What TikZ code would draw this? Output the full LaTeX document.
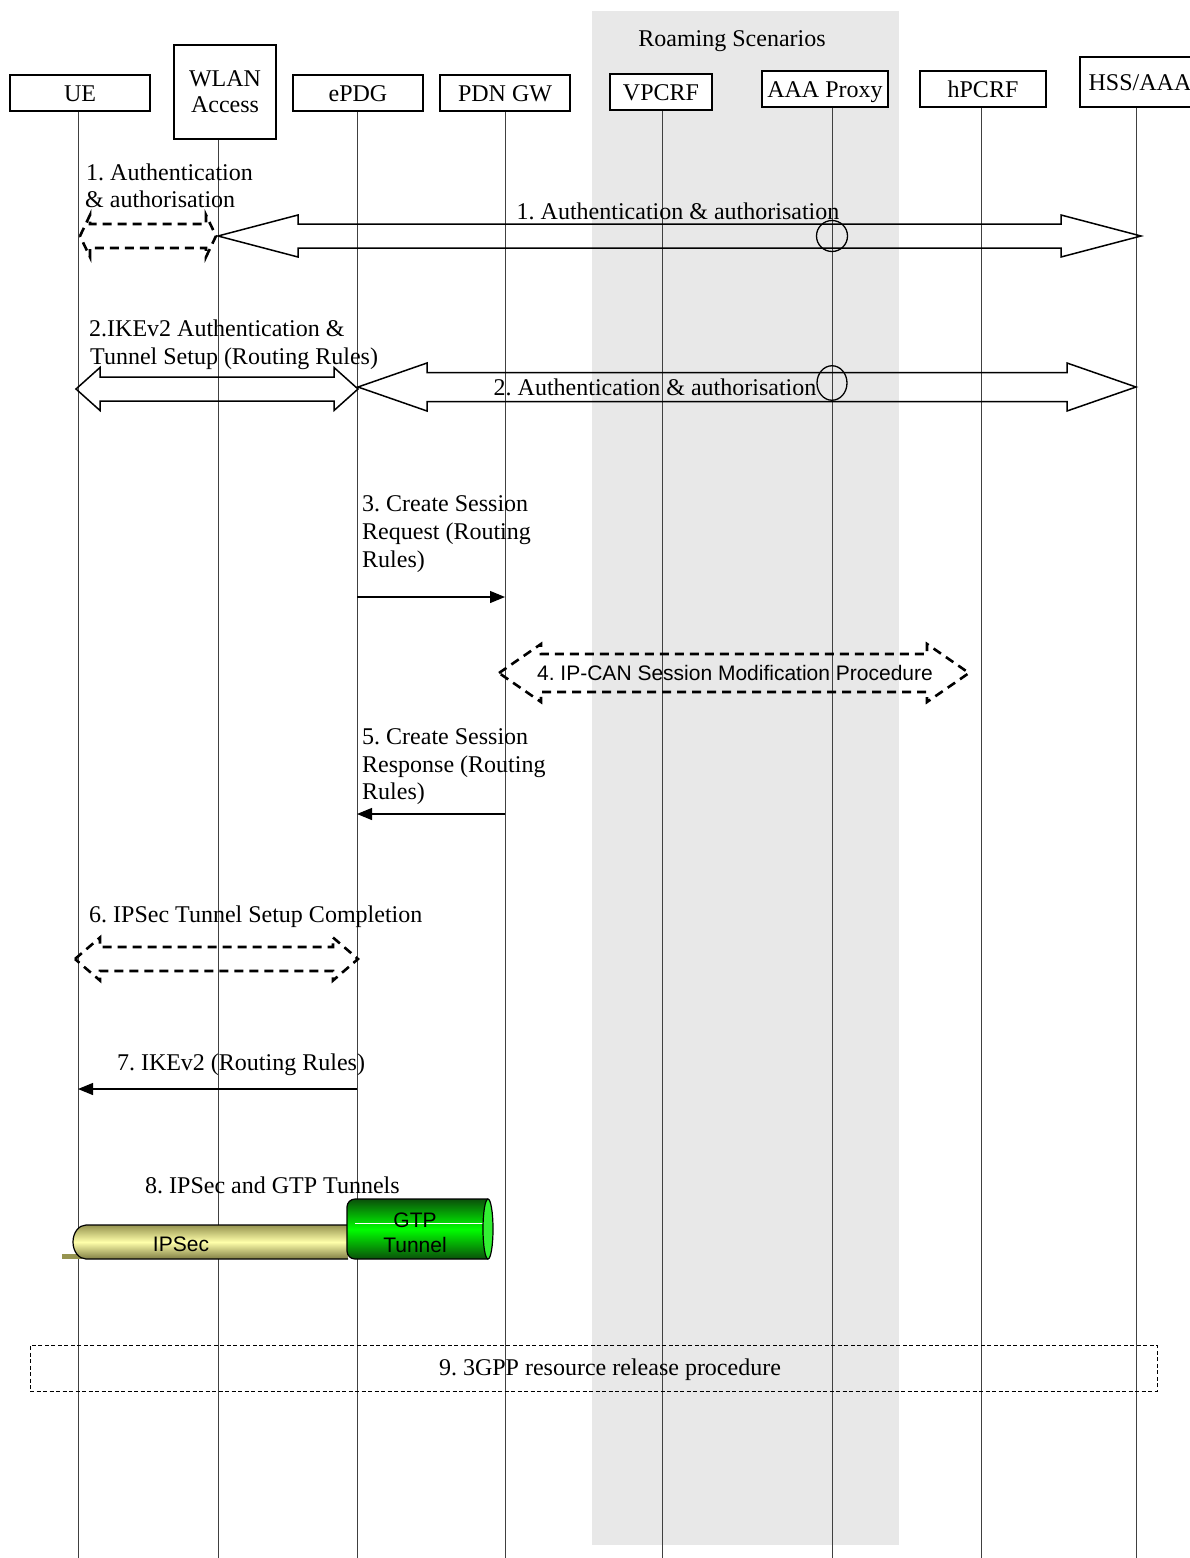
\documentclass[tikz,border=0pt]{standalone}
\usepackage{fontspec}
\setmainfont{Liberation Serif}
\newfontfamily\arialf{Liberation Sans}
\usetikzlibrary{arrows.meta}
\frenchspacing
\definecolor{roam}{RGB}{232,232,232}
\definecolor{ipsdark}{RGB}{150,148,80}
\definecolor{ipslight}{RGB}{255,255,170}
\definecolor{gtpdark}{RGB}{10,80,10}
\definecolor{gtplight}{RGB}{0,255,0}
\definecolor{gtpend}{RGB}{50,240,50}
\newcommand\dblblock[7]{%
  \draw[#1] (#2,#4) -- ({#2+#7},{#4-#6}) -- ({#2+#7},{#4-#5}) -- ({#3-#7},{#4-#5})
    -- ({#3-#7},{#4-#6}) -- (#3,#4) -- ({#3-#7},{#4+#6}) -- ({#3-#7},{#4+#5})
    -- ({#2+#7},{#4+#5}) -- ({#2+#7},{#4+#6}) -- cycle;}
\begin{document}
\begin{tikzpicture}[x=1pt,y=-1pt,
  font=\fontsize{24}{28}\selectfont\frenchspacing,
  ent/.style={draw, fill=white, line width=1.2pt, inner sep=0pt, text height=16pt, text depth=0pt},
  life/.style={line width=0.8pt, black!75},
  msg/.style={line width=1.2pt, -{Triangle[length=15pt,width=12pt]}},
  blk/.style={line width=1.5pt, line join=miter},
  dblk/.style={line width=2.6pt, dash pattern=on 9pt off 6pt, line join=miter},
  lbl/.style={anchor=base west, inner sep=0pt},
  clbl/.style={anchor=base, inner sep=0pt},
  sfl/.style={anchor=base, inner sep=0pt, font=\arialf\fontsize{21}{25}\selectfont\frenchspacing}]

\useasboundingbox (0,0) rectangle (1190,1558);

% roaming background
\fill[roam] (592,11) rectangle (899,1545);
\node[clbl] (roamt) at (732,46) {Roaming Scenarios};

% lifelines
\coordinate (ueT) at (78,111);     \coordinate (ueB) at (78,1558);
\coordinate (wlT) at (218,139);    \coordinate (wlB) at (218,1558);
\coordinate (epT) at (357,111);    \coordinate (epB) at (357,1558);
\coordinate (pdT) at (505,111);    \coordinate (pdB) at (505,1558);
\coordinate (vpT) at (662,110);    \coordinate (vpB) at (662,1558);
\coordinate (aaT) at (832,107);    \coordinate (aaB) at (832,1558);
\coordinate (hpT) at (981,107);    \coordinate (hpB) at (981,1558);
\coordinate (hsT) at (1136,107);   \coordinate (hsB) at (1136,1558);
\foreach \l in {ue,wl,ep,pd,vp,aa,hp,hs}{\draw[life] (\l T) -- (\l B);}

% entity boxes
\node[ent, minimum width=140pt, minimum height=36pt] (ue) at (80,93) {UE};
\node[draw, fill=white, line width=1.2pt, inner sep=0pt, minimum width=102pt, minimum height=94pt,
      align=center, font=\fontsize{24}{26}\selectfont] (wlan) at (225,92) {WLAN\\Access};
\node[ent, minimum width=130pt, minimum height=36pt] (epdg) at (358,93) {ePDG};
\node[ent, minimum width=130pt, minimum height=36pt] (pdn) at (505,93) {PDN GW};
\node[ent, minimum width=102pt, minimum height=36pt] (vpcrf) at (661,92) {VPCRF};
\node[ent, minimum width=126pt, minimum height=36pt] (aaa) at (825,89) {AAA Proxy};
\node[ent, minimum width=126pt, minimum height=36pt] (hpcrf) at (983,89) {hPCRF};
\node[ent, minimum width=120pt, minimum height=50pt] (hss) at (1140,82) {HSS/AAA};

% step 1
\node[lbl] (s1a) at (86,180) {1. Authentication};
\node[lbl] (s1b) at (85,207) {\& authorisation};
\dblblock{dblk}{80}{216}{236}{12}{21}{10}
\dblblock{blk}{218}{1141}{236}{12}{21}{80}
\node[draw, circle, line width=1.3pt, minimum size=31pt, inner sep=0pt] (px1) at (832,236) {};
\node[clbl] (s1c) at (678,219) {1. Authentication \& authorisation};

% step 2
\node[lbl] (s2a) at (89,336) {2.IKEv2 Authentication \&};
\node[lbl] (s2b) at (90,364) {Tunnel Setup (Routing Rules)};
\dblblock{blk}{76}{358}{389}{12}{21.5}{24}
\dblblock{blk}{358}{1136}{387}{14.5}{24}{69}
\node[draw, circle, line width=1.3pt, minimum size=30pt, inner sep=0pt, yscale=1.15] (px2) at (832,383) {};
\node[clbl] (s2c) at (655,395) {2. Authentication \& authorisation};

% step 3
\node[lbl] (s3a) at (362,511) {3. Create Session};
\node[lbl] (s3b) at (362,539) {Request (Routing};
\node[lbl] (s3c) at (362,567) {Rules)};
\coordinate (m3s) at (357,597); \coordinate (m3e) at (505,597);
\draw[msg] (m3s) -- (m3e);

% step 4
\dblblock{dblk}{499}{969}{673}{19}{29}{42}
\node[sfl] (s4) at (735,680) {4. IP-CAN Session Modification Procedure};

% step 5
\node[lbl] (s5a) at (362,744) {5. Create Session};
\node[lbl] (s5b) at (362,772) {Response (Routing};
\node[lbl] (s5c) at (362,799) {Rules)};
\coordinate (m5s) at (505,814); \coordinate (m5e) at (357,814);
\draw[msg] (m5s) -- (m5e);

% step 6
\node[lbl] (s6) at (89,922) {6. IPSec Tunnel Setup Completion};
\dblblock{dblk}{75}{358}{959}{12}{21.5}{25}

% step 7
\node[clbl] (s7) at (241,1070) {7. IKEv2 (Routing Rules)};
\coordinate (m7s) at (357,1089); \coordinate (m7e) at (78,1089);
\draw[msg] (m7s) -- (m7e);

% step 8
\node[lbl] (s8) at (145,1193) {8. IPSec and GTP Tunnels};
\fill[ipsdark] (62,1254) rectangle (82,1259);
\shade[top color=ipsdark, bottom color=ipsdark!85!black, middle color=ipslight]
  (348,1225) -- (86,1225) arc[start angle=270, end angle=90, x radius=13, y radius=17] -- (348,1259) -- cycle;
\draw[line width=1.2pt]
  (348,1225) -- (86,1225) arc[start angle=270, end angle=90, x radius=13, y radius=17] -- (348,1259);
\node[sfl] (ipst) at (181,1251) {IPSec};
\shade[top color=gtpdark, bottom color=gtpdark, middle color=gtplight]
  (488,1199) [rounded corners=8pt] -- (347,1199) -- (347,1259) [sharp corners] -- (488,1259) -- cycle;
\draw[line width=1.2pt]
  (488,1199) [rounded corners=8pt] -- (347,1199) -- (347,1259) [sharp corners] -- (488,1259);
\draw[white, line width=1pt] (355,1223) -- (483,1223);
\filldraw[fill=gtpend, line width=1.2pt] (488,1229) ellipse [x radius=5, y radius=30];
\node[sfl] (gtpa) at (415,1227) {GTP};
\node[sfl] (gtpb) at (415,1252) {Tunnel};

% step 9
\node[draw, line width=1pt, dash pattern=on 4pt off 2.5pt, minimum width=1127pt,
      minimum height=46pt, inner sep=0pt] (rel) at (593.5,1368) {};
\node[clbl] (s9) at (610,1375) {9. 3GPP resource release procedure};
\end{tikzpicture}
\end{document}
